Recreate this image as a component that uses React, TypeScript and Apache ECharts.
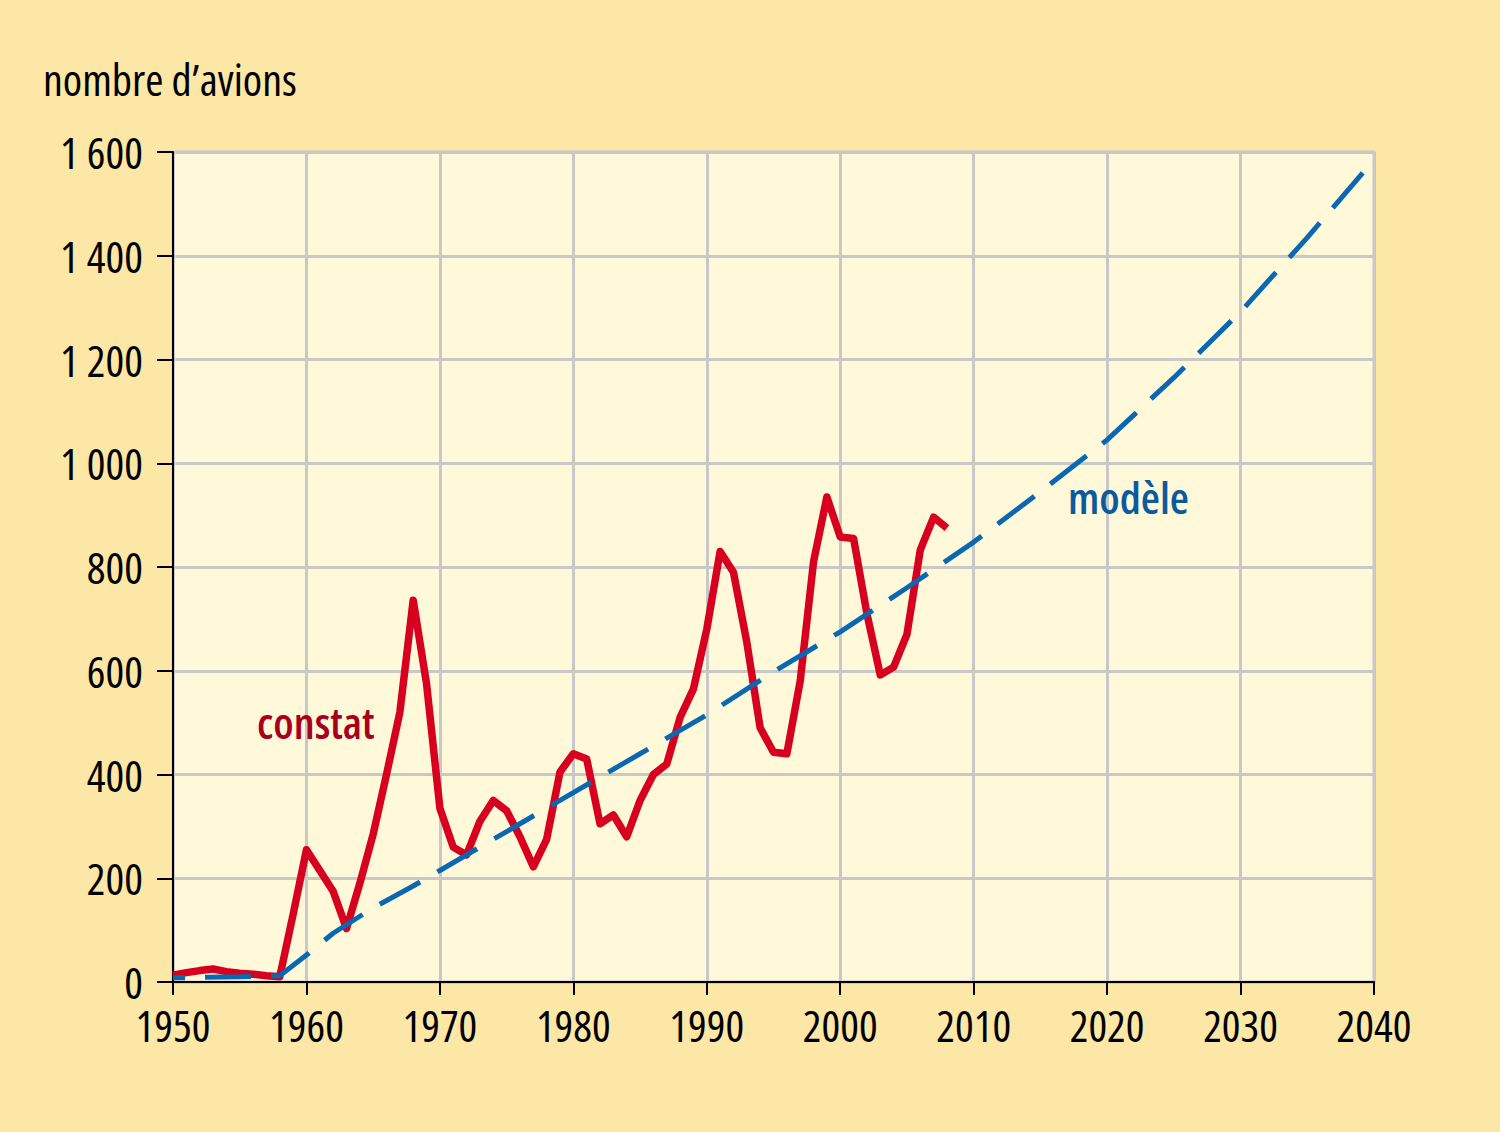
import React, { useEffect, useRef } from "react";
import * as echarts from "echarts";

const observedYears = [
  1950, 1951, 1952, 1953, 1954, 1955, 1956, 1957, 1958, 1959,
  1960, 1961, 1962, 1963, 1964, 1965, 1966, 1967, 1968, 1969,
  1970, 1971, 1972, 1973, 1974, 1975, 1976, 1977, 1978, 1979,
  1980, 1981, 1982, 1983, 1984, 1985, 1986, 1987, 1988, 1989,
  1990, 1991, 1992, 1993, 1994, 1995, 1996, 1997, 1998, 1999,
  2000, 2001, 2002, 2003, 2004, 2005, 2006, 2007, 2008,
];
const observedValues = [
  13, 18, 22, 25, 20, 17, 15, 12, 10, 130,
  255, 215, 175, 103, 190, 285, 400, 520, 736, 575,
  335, 260, 245, 310, 350, 330, 280, 222, 275, 405,
  440, 430, 305, 322, 280, 350, 400, 420, 510, 565,
  680, 830, 790, 655, 490, 443, 440, 580, 810, 935,
  858, 855, 710, 592, 607, 670, 833, 896, 875,
];

const modelYears = [
  1950, 1955, 1958, 1960, 1962, 1965, 1968, 1970, 1975, 1980, 1985,
  1990, 1995, 2000, 2005, 2010, 2015, 2020, 2025, 2030, 2035, 2040,
];
const modelValues = [
  8, 10, 12, 52, 94, 143, 185, 215, 290, 365, 440,
  515, 598, 675, 760, 848, 945, 1045, 1165, 1292, 1435, 1585,
];

const xTicks = { min: 1950, max: 2040, interval: 10 };
const yTicks = { min: 0, max: 1600, interval: 200 };

const FAMILY = "'Open Sans', 'Roboto Condensed', sans-serif";
// font-family for axis labels; the SVG renderer writes it into the style attribute,
// so the condensed width of the Open Sans variable font can be selected.
const AXIS_FAMILY = "'Open Sans', 'Roboto Condensed', sans-serif;font-stretch:condensed";
const FS = 44;

function fmtY(v: number): string {
  if (v >= 1000) {
    const th = Math.floor(v / 1000);
    const rest = String(v % 1000).padStart(3, "0");
    return `${th} ${rest}`;
  }
  return String(v);
}

export default function App() {
  const ref = useRef<HTMLDivElement>(null);
  useEffect(() => {
    if (!ref.current) return;
    const chart = echarts.init(ref.current, undefined, { renderer: "svg" });
    const observed = observedYears.map((y, i) => [y, observedValues[i]]);
    const model = modelYears.map((y, i) => [y, modelValues[i]]);
    chart.setOption({
      animation: false,
      backgroundColor: "#FDE7A6",
      grid: {
        left: 173,
        top: 152,
        right: 126,
        bottom: 150,
        show: true,
        backgroundColor: "#FFF9DA",
        borderColor: "#C8C8C8",
        borderWidth: 3,
      },
      xAxis: {
        type: "value",
        min: xTicks.min,
        max: xTicks.max,
        interval: xTicks.interval,
        axisLine: { show: true, onZero: false, lineStyle: { color: "#000", width: 2 } },
        axisTick: { show: true, length: 13, lineStyle: { color: "#000", width: 2 } },
        axisLabel: {
          color: "#000",
          fontSize: FS,
          fontFamily: AXIS_FAMILY,
          margin: 38,
          interval: 0,
          formatter: (v: number) => String(v),
        },
        splitLine: { show: true, lineStyle: { color: "#C8C8C8", width: 3 } },
      },
      yAxis: {
        type: "value",
        min: yTicks.min,
        max: yTicks.max,
        interval: yTicks.interval,
        axisLine: { show: true, lineStyle: { color: "#000", width: 2 } },
        axisTick: { show: true, length: 16, lineStyle: { color: "#000", width: 2 } },
        axisLabel: {
          color: "#000",
          fontSize: FS,
          fontFamily: AXIS_FAMILY,
          margin: 30,
          interval: 0,
          formatter: (v: number) => fmtY(v),
        },
        splitLine: { show: true, lineStyle: { color: "#C8C8C8", width: 3 } },
      },
      graphic: [
        {
          type: "text",
          left: 43,
          top: 57,
          style: { text: "nombre d\u2019avions", fill: "#000", font: `normal condensed ${FS}px ${FAMILY}` },
        },
        {
          type: "text",
          left: 257,
          top: 700,
          z: 10,
          style: { text: "constat", fill: "#A8001C", font: `normal 600 condensed ${FS}px ${FAMILY}` },
        },
        {
          type: "text",
          left: 1068,
          top: 475,
          z: 10,
          style: { text: "mod\u00e8le", fill: "#0B5A9E", font: `normal 600 condensed ${FS}px ${FAMILY}` },
        },
      ],
      series: [
        {
          type: "line",
          data: observed,
          symbol: "none",
          lineStyle: { color: "#D7001F", width: 7.5, join: "round" },
          z: 3,
        },
        {
          type: "line",
          data: model,
          symbol: "none",
          lineStyle: { color: "#0A68B3", width: 5, type: [46, 20], dashOffset: 34 },
          z: 4,
        },
      ],
    });
    return () => chart.dispose();
  }, []);
  return (
    <div
      ref={ref}
      style={{ position: "absolute", left: 0, top: 0, width: 1500, height: 1132 }}
    />
  );
}
